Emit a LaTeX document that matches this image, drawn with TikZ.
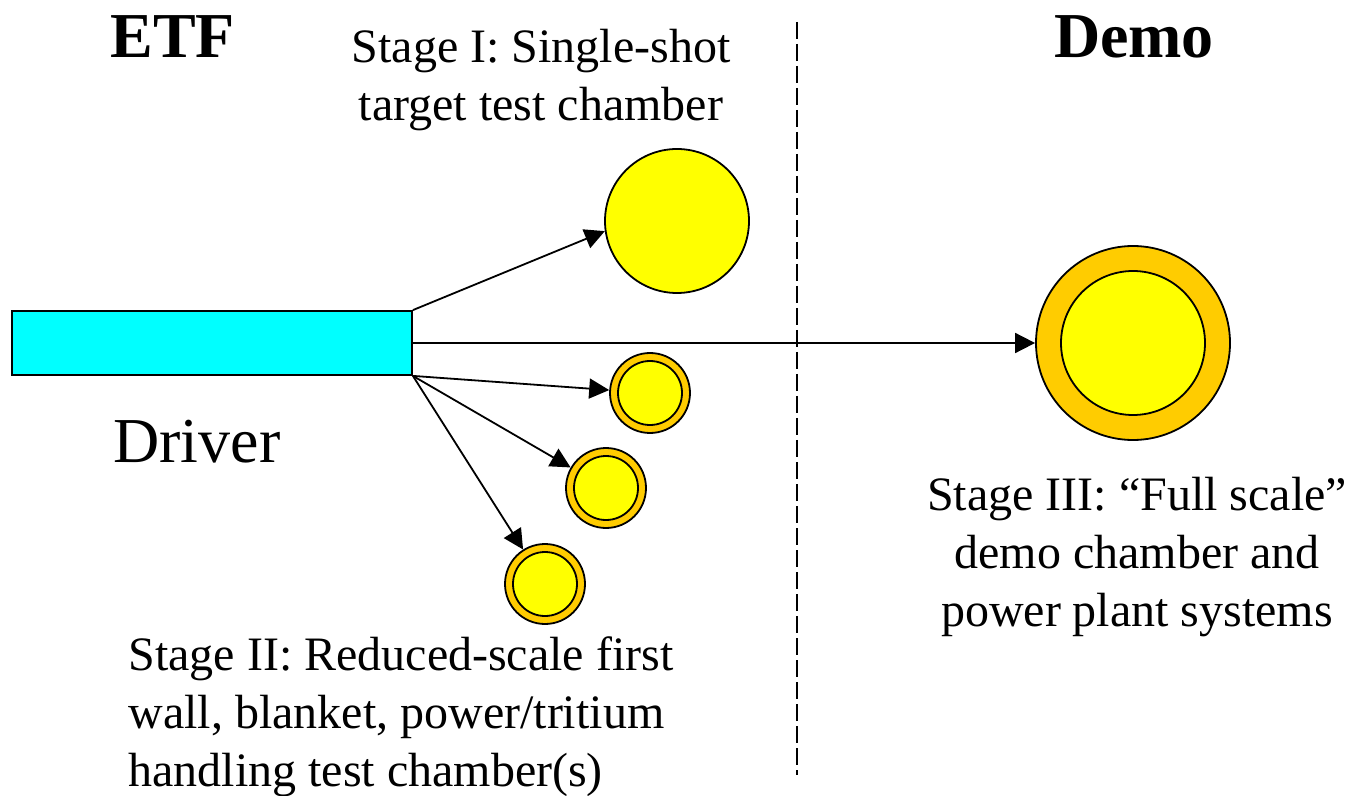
\documentclass[tikz,border=0pt]{standalone}
\usepackage{fontspec}
\setmainfont{Liberation Serif}
\usetikzlibrary{arrows.meta,positioning}
\definecolor{beam}{RGB}{0,255,255}
\definecolor{ring}{RGB}{255,204,0}
\definecolor{core}{RGB}{255,255,0}

\begin{document}
\begin{tikzpicture}[
  x=0.5pt, y=-0.5pt,
  chamber/.style={circle, draw, line width=0.9pt, fill=core, inner sep=0pt,
                  minimum size=#1},
  blanket/.style={circle, draw, line width=0.9pt, fill=ring, inner sep=0pt,
                  minimum size=#1},
  label/.style={font=\fontsize{24}{29}\selectfont, inner sep=0pt},
  title/.style={font=\fontsize{32}{38}\selectfont\bfseries, inner sep=0pt},
  arrow/.style={-{Triangle[length=10pt,width=10pt]}, line width=0.9pt}
]
  \useasboundingbox (0,0) rectangle (1354,796);

  % ── LEFT: ETF ──
  \node[title, anchor=base west] (etf) at (110,58) {ETF};
  \node[draw, line width=0.9pt, fill=beam, minimum width=200pt,
        minimum height=32pt, inner sep=0pt] (driver) at (212,343) {};
  \node[label, font=\fontsize{32}{38}\selectfont, anchor=base west]
        (dlabel) at (113,462) {Driver};

  \node[chamber=72pt] (single) at (677,221) {};
  \node[label, align=center, anchor=north] (stone) at (541,29)
        {Stage I: Single-shot\\target test chamber};

  \node[blanket=40pt] (rwa) at (650,393) {};
  \node[chamber=32pt] at (rwa) {};
  \node[blanket=40pt] (rwb) at (606,488) {};
  \node[chamber=32pt] at (rwb) {};
  \node[blanket=40pt] (rwc) at (545,584) {};
  \node[chamber=32pt] at (rwc) {};
  \node[label, align=left, anchor=north west] (sttwo) at (128,636)
        {Stage II: Reduced-scale first\\wall, blanket, power/tritium\\handling test chamber(s)};

  % ── RIGHT: Demo ──
  \node[title, anchor=base] (demo) at (1134,58) {Demo};
  \node[blanket=97pt] (plant) at (1133,343) {};
  \node[chamber=72pt] at (plant) {};
  \node[label, align=center, anchor=north] (stthree) at (1137,477)
        {Stage III: ``Full scale''\\demo chamber and\\power plant systems};

  % divider
  \coordinate (dtop) at (797,22);
  \coordinate (dbot) at (797,775);
  \draw[line width=0.75pt, dash pattern=on 8.5pt off 2.5pt] (dtop) -- (dbot);

  % beams
  \draw[arrow] (driver.north east) -- (single.188);
  \draw[arrow] (driver.east) -- (plant);
  \draw[arrow] (driver.south east) -- (rwa);
  \draw[arrow] (driver.south east) -- (rwb);
  \draw[arrow] (driver.south east) -- (rwc);
\end{tikzpicture}
\end{document}
